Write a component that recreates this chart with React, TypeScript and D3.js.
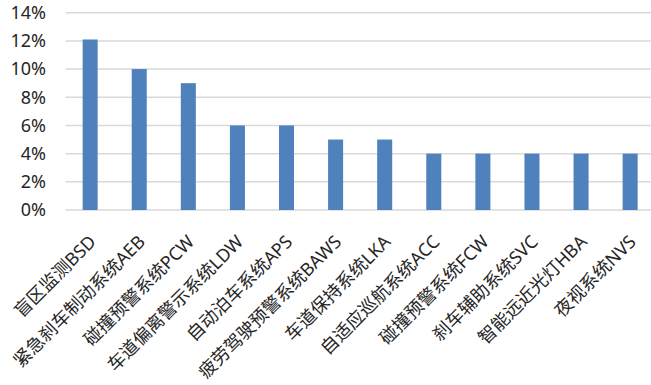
import React from "react";
import * as d3 from "d3";

const categories = [
  "盲区监测BSD",
  "紧急刹车制动系统AEB",
  "碰撞预警系统PCW",
  "车道偏离警示系统LDW",
  "自动泊车系统APS",
  "疲劳驾驶预警系统BAWS",
  "车道保持系统LKA",
  "自适应巡航系统ACC",
  "碰撞预警系统FCW",
  "刹车辅助系统SVC",
  "智能远近光灯HBA",
  "夜视系统NVS",
];
const shares = [0.121, 0.10, 0.09, 0.06, 0.06, 0.05, 0.05, 0.04, 0.04, 0.04, 0.04, 0.04];
const yTicks = [0, 0.02, 0.04, 0.06, 0.08, 0.1, 0.12, 0.14];

const W = 651;
const H = 385;
const plotLeft = 65.6;
const plotRight = 654.7;
const plotTop = 12.7;
const plotBottom = 210;

export default function App() {
  const x = d3.scaleBand<string>().domain(categories).range([plotLeft, plotRight]).padding(0);
  const y = d3.scaleLinear().domain([0, 0.14]).range([plotBottom, plotTop]);
  const barW = x.bandwidth() * 0.306;
  const fmt = d3.format(".0%");
  const font = "'Noto Sans', 'Noto Sans CJK SC', sans-serif";

  return (
    <svg
      width={W}
      height={H}
      style={{ position: "absolute", left: 0, top: 0, background: "#fff" }}
      fontFamily={font}
    >
      {yTicks.map((t) => (
        <g key={t}>
          <line x1={plotLeft} x2={W} y1={y(t)} y2={y(t)} stroke="#D9D9D9" strokeWidth={1.5} />
          <text x={46} y={y(t)} dy="0.35em" textAnchor="end" fontSize={18} fill="#262626">
            {fmt(t)}
          </text>
        </g>
      ))}
      {categories.map((c, i) => {
        const cx = (x(c) as number) + x.bandwidth() / 2;
        return (
          <rect
            key={c}
            x={cx - barW / 2}
            y={y(shares[i])}
            width={barW}
            height={plotBottom - y(shares[i])}
            fill="#4F81BD"
          />
        );
      })}
      {categories.map((c) => {
        const cx = (x(c) as number) + x.bandwidth() / 2;
        return (
          <text
            key={c}
            transform={`translate(${cx + 2.5},${238.5}) rotate(-45)`}
            dy="0.35em"
            textAnchor="end"
            fontSize={18}
            fill="#262626"
          >
            {c}
          </text>
        );
      })}
    </svg>
  );
}
